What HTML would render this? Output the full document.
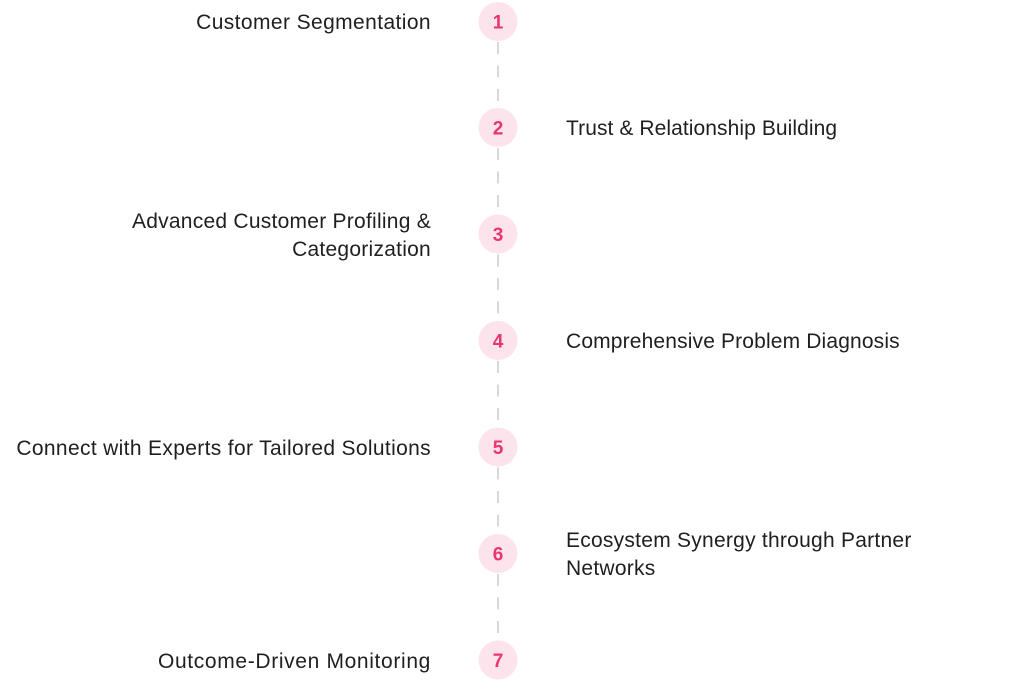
<!DOCTYPE html>
<html>
<head>
<meta charset="utf-8">
<style>
  html, body { margin:0; padding:0; background:#ffffff; }
  body { width:1024px; height:681px; position:relative; overflow:hidden;
         font-family:"Liberation Sans", sans-serif; }
  svg { position:absolute; left:0; top:0; }
  .t { position:absolute; font-size:21px; line-height:28px; color:#1f1f1f; letter-spacing:0.15px; white-space:nowrap; }
  .l { right:593px; text-align:right; }
  .r { left:566px; text-align:left; }
</style>
</head>
<body>
<svg width="1024" height="681" viewBox="0 0 1024 681">
  <g stroke="#d8d8d8" stroke-width="2" stroke-dasharray="12 11.5" fill="none">
    <line x1="498" y1="42" x2="498" y2="108"/>
    <line x1="498" y1="148" x2="498" y2="214"/>
    <line x1="498" y1="254.5" x2="498" y2="321"/>
    <line x1="498" y1="361" x2="498" y2="427.5"/>
    <line x1="498" y1="467.5" x2="498" y2="534"/>
    <line x1="498" y1="574" x2="498" y2="640.5"/>
  </g>
  <g fill="#fde3ec">
    <circle cx="498" cy="21.5" r="19.5"/>
    <circle cx="498" cy="127.5" r="19.5"/>
    <circle cx="498" cy="234" r="19.5"/>
    <circle cx="498" cy="340.5" r="19.5"/>
    <circle cx="498" cy="447" r="19.5"/>
    <circle cx="498" cy="553.5" r="19.5"/>
    <circle cx="498" cy="660" r="19.5"/>
  </g>
  <g fill="#e8366f" font-family="Liberation Sans, sans-serif" font-weight="bold" font-size="19" text-anchor="middle">
    <text x="498" y="28.3">1</text>
    <text x="498" y="134.3">2</text>
    <text x="498" y="240.8">3</text>
    <text x="498" y="347.3">4</text>
    <text x="498" y="453.8">5</text>
    <text x="498" y="560.3">6</text>
    <text x="498" y="666.8">7</text>
  </g>
</svg>

<div class="t l" style="top:9px; letter-spacing:0.4px;">Customer Segmentation</div>
<div class="t r" style="top:115px; letter-spacing:0.08px;">Trust &amp; Relationship Building</div>
<div class="t l" style="top:207.5px; letter-spacing:0.25px;">Advanced Customer Profiling &amp;<br>Categorization</div>
<div class="t r" style="top:328px;">Comprehensive Problem Diagnosis</div>
<div class="t l" style="top:434.5px; letter-spacing:0.34px;">Connect with Experts for Tailored Solutions</div>
<div class="t r" style="top:527px; letter-spacing:0.25px;">Ecosystem Synergy through Partner<br>Networks</div>
<div class="t l" style="top:647.5px; letter-spacing:0.65px;">Outcome-Driven Monitoring</div>
</body>
</html>
